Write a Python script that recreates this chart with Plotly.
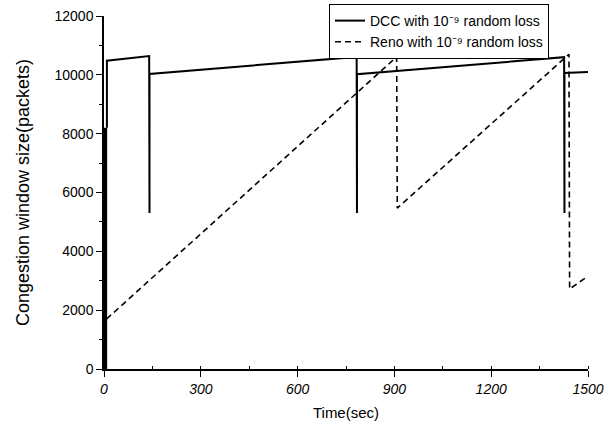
import plotly.graph_objects as go

# DCC congestion window (packets) vs time (sec)
dcc_t = [9, 9, 140, 141, 141, 783, 784, 784, 1426, 1427, 1427, 1500]
dcc_w = [8200, 10480, 10640, 5300, 10030, 10610, 5300, 10020, 10600, 5300, 10060, 10100]
# slow-start burst of DCC near t=0
dcc_ss_t = [2, 2]
dcc_ss_w = [0, 8200]

# Reno congestion window
reno_t = [8, 907, 909, 1441, 1443, 1496]
reno_w = [1700, 10610, 5470, 10700, 2720, 3130]

x_ticks = [0, 300, 600, 900, 1200, 1500]
y_ticks = [0, 2000, 4000, 6000, 8000, 10000, 12000]

FONT = "Liberation Sans, Arial, sans-serif"

fig = go.Figure()
fig.add_trace(go.Scatter(x=dcc_ss_t, y=dcc_ss_w, mode="lines",
                         line=dict(color="black", width=5), showlegend=False,
                         hoverinfo="skip", cliponaxis=False))
fig.add_trace(go.Scatter(x=dcc_t, y=dcc_w, mode="lines",
                         name="DCC with 10⁻⁹ random loss",
                         line=dict(color="black", width=2)))
fig.add_trace(go.Scatter(x=reno_t, y=reno_w, mode="lines",
                         name="Reno with 10⁻⁹ random loss",
                         line=dict(color="black", width=1.6, dash="6px,4px")))

fig.update_layout(
    width=614, height=427,
    margin=dict(l=104, r=26, t=16, b=58, autoexpand=False),
    paper_bgcolor="white", plot_bgcolor="white",
    font=dict(family=FONT, color="black", size=14),
    legend=dict(x=549 / 614, y=1 - 4 / 427, xref="container", yref="container",
                xanchor="right", yanchor="top",
                bordercolor="black", borderwidth=1, bgcolor="white",
                font=dict(size=14), tracegroupgap=0, itemwidth=30),
)
fig.update_xaxes(
    range=[0, 1500], tickvals=x_ticks, ticktext=[f"<i>{v}</i>" for v in x_ticks],
    showgrid=False, zeroline=False, showline=True, linecolor="black", linewidth=1.5,
    ticks="outside", ticklen=6, tickwidth=1.2, tickcolor="black",
    minor=dict(dtick=150, ticks="inside", ticklen=3, tickcolor="black"),
    title=dict(text="Time(sec)", font=dict(size=15), standoff=12),
    tickfont=dict(size=14),
)
fig.update_yaxes(
    range=[0, 12000], tickvals=y_ticks, ticktext=[str(v) for v in y_ticks],
    showgrid=False, zeroline=False, showline=True, linecolor="black", linewidth=1.5,
    ticks="outside", ticklen=6, tickwidth=1.2, tickcolor="black",
    minor=dict(dtick=1000, ticks="outside", ticklen=3, tickcolor="black"),
    title=dict(text="Congestion window size(packets)", font=dict(size=18), standoff=20),
    tickfont=dict(size=14),
)

fig.write_html("out.html")
